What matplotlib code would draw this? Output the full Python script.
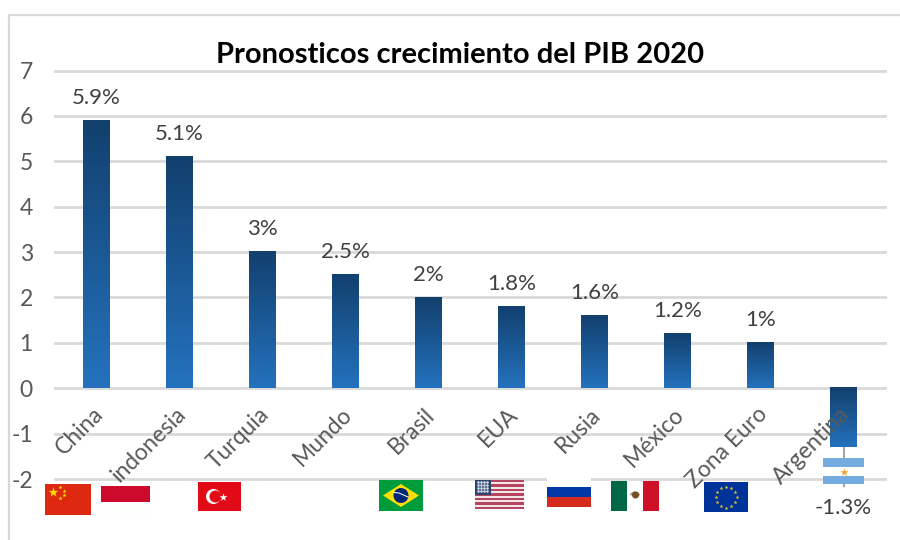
import numpy as np
import matplotlib
matplotlib.use('Agg')
import matplotlib.pyplot as plt
from matplotlib.patches import Rectangle, Polygon, Circle, Wedge

plt.rcParams['font.family'] = ['Lato', 'DejaVu Sans']
plt.rcParams['axes.unicode_minus'] = False

countries = ['China', 'indonesia', 'Turquia', 'Mundo', 'Brasil', 'EUA', 'Rusia',
             'México', 'Zona Euro', 'Argentina']
growth = [5.9, 5.1, 3.0, 2.5, 2.0, 1.8, 1.6, 1.2, 1.0, -1.3]
labels = ['5.9%', '5.1%', '3%', '2.5%', '2%', '1.8%', '1.6%', '1.2%', '1%', '-1.3%']
y_ticks = list(range(-2, 8))

W, H = 900, 540
TEXT = '#595959'
GRID = '#d9d9d9'

fig = plt.figure(figsize=(W / 100, H / 100), dpi=100)
ax = fig.add_axes([55 / W, 1 - 479 / H, 830 / W, (479 - 70.5) / H])

# gradient bars, dark at the top
gradient = matplotlib.colors.LinearSegmentedColormap.from_list('bar', ['#12406e', '#2472bd'])
ramp = np.linspace(0, 1, 128).reshape(-1, 1)
bar_w = 0.325
for i, v in enumerate(growth):
    ax.imshow(ramp, cmap=gradient, aspect='auto', zorder=2,
              extent=(i - bar_w / 2, i + bar_w / 2, min(v, 0), max(v, 0)))
ax.set_xlim(-0.5, 9.5)
ax.set_ylim(-2, 7)

ax.set_yticks(y_ticks)
ax.grid(axis='y', color=GRID, lw=2, zorder=0, clip_on=False)
ax.set_axisbelow(True)
for s in ax.spines.values():
    s.set_visible(False)
ax.tick_params(axis='y', length=0, labelsize=16.5, labelcolor=TEXT, pad=16)
ax.set_xticks([])

# category names hang below the zero line
for i, name in enumerate(countries):
    ax.annotate(name, (i, 0), xytext=(-3, -11), textcoords='offset points',
                rotation=45, rotation_mode='anchor', ha='right', va='top',
                fontsize=16.5, color=TEXT, zorder=6, annotation_clip=False)

# value labels
for i, (v, lab) in enumerate(zip(growth, labels)):
    dy = 16.5 if v > 0 else -44
    ax.annotate(lab, (i, v), xytext=(0, dy), textcoords='offset points',
                ha='center', va='center', fontsize=16, color='#404040',
                zorder=6, annotation_clip=False)
ax.plot([9, 9], [-1.3, -2.15], color='#a6a6a6', lw=1.5, zorder=1, clip_on=False)

fig.text(460 / W, 1 - 55 / H, 'Pronosticos crecimiento del PIB 2020', ha='center',
         va='center', fontsize=21, fontweight='bold', color='black')

# overlay in pixel coordinates for the chart frame and pasted flags
ov = fig.add_axes([0, 0, 1, 1], zorder=5)
ov.set_xlim(0, W)
ov.set_ylim(H, 0)
ov.axis('off')
ov.patch.set_alpha(0)
ov.plot([9, 9, 900], [540, 15, 15], color=GRID, lw=1.6)


def rect(x0, y0, x1, y1, c):
    ov.add_patch(Rectangle((x0, y0), x1 - x0, y1 - y0, fc=c, ec='none'))


# China
rect(45, 484, 91, 515, '#de2910')
ov.scatter([52.5], [491.5], marker='*', s=55, c='#ffde00', lw=0)
ov.scatter([60, 64, 64, 60], [487, 491, 495, 498], marker='*', s=10, c='#ffde00', lw=0)
# Indonesia
rect(101, 486, 150, 501.5, '#ce0a2c')
rect(101, 501.5, 150, 517, '#fdfffd')
# Turquia
rect(198, 482, 241, 511, '#e30a17')
ov.add_patch(Circle((213.5, 496.5), 7.5, fc='white', ec='none'))
ov.add_patch(Circle((215.5, 496.5), 6, fc='#e30a17', ec='none'))
ov.scatter([222.5], [496.5], marker='*', s=35, c='white', lw=0)
# Brasil
rect(379, 480, 423, 511, '#009b3a')
ov.add_patch(Polygon([(383, 495.5), (401, 484), (419, 495.5), (401, 507)], fc='#fedf00', ec='none'))
ov.add_patch(Circle((401, 495.5), 7.5, fc='#002776', ec='none'))
ov.plot([394, 399, 408], [492.5, 493, 497], color='white', lw=0.7)
# EUA
for k in range(13):
    rect(475, 480 + k * 29 / 13, 524, 480 + (k + 1) * 29 / 13, '#b5465f' if k % 2 == 0 else '#f3e6e8')
rect(475, 480, 491, 495, '#2b4470')
ux, uy = np.meshgrid(np.arange(477.5, 490, 3.2), np.arange(482, 494, 3))
ov.scatter(ux.ravel(), uy.ravel(), s=3.5, c='#d8dfe8', lw=0)
# Rusia, white band hides the gridline
rect(547, 477, 591, 487, 'white')
rect(547, 487, 591, 497, '#0039a6')
rect(547, 497, 591, 507, '#d52b1e')
# Mexico
rect(611, 481, 627, 511, '#006847')
rect(627, 481, 643, 511, 'white')
rect(643, 481, 659, 511, '#ce1126')
ov.add_patch(Wedge((635, 497), 5.5, 200, 340, width=1.5, fc='#7d9b6c', ec='none'))
ov.add_patch(Circle((635.5, 495), 3.5, fc='#7a4a24', ec='none'))
# Zona Euro
rect(704, 482, 748, 512, '#003399')
a = np.deg2rad(np.arange(0, 360, 30))
ov.scatter(726 + 10.5 * np.cos(a), 497 + 10.5 * np.sin(a), marker='*', s=9, c='#e8c22a', lw=0)
# Argentina
rect(823, 458, 864, 467, '#74acdf')
rect(823, 467, 864, 476, 'white')
rect(823, 476, 864, 484, '#74acdf')
ov.scatter([843.5], [471.5], marker='*', s=38, c='#f6a623', lw=0)

fig.savefig('out.png', dpi=100)
